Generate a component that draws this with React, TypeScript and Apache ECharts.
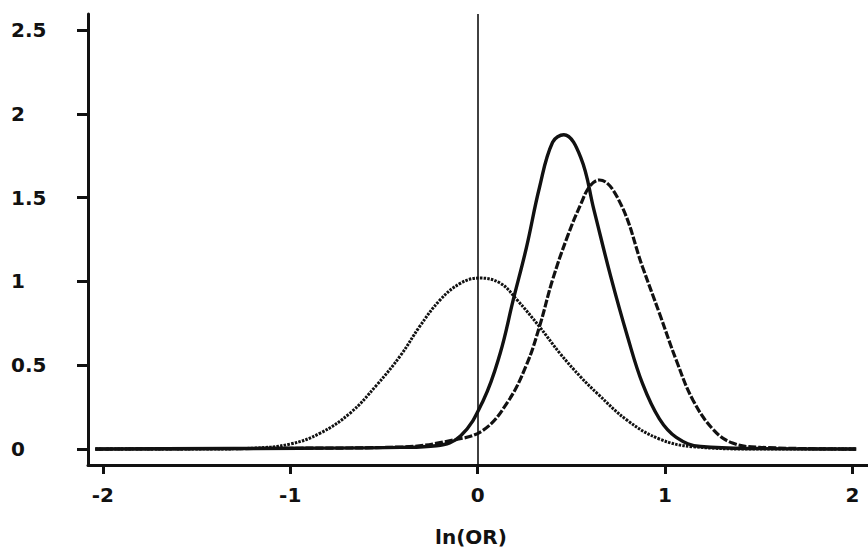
import React, { useEffect, useRef } from "react";
import * as echarts from "echarts";

// Dotted curve (peaked at 0)
const dottedX = [-2.04, -1.48, -1.21, -1.0, -0.84, -0.68, -0.54, -0.41, -0.31, -0.2, -0.09, 0.01, 0.12, 0.21, 0.33, 0.44, 0.55, 0.64, 0.8, 0.97, 1.15, 1.51, 2.02];
const dottedY = [0, 0, 0.005, 0.03, 0.095, 0.215, 0.38, 0.56, 0.73, 0.89, 0.99, 1.02, 0.99, 0.89, 0.73, 0.57, 0.43, 0.33, 0.17, 0.06, 0.014, 0, 0];

// Solid curve (tall, narrow)
const solidX = [-2.04, -0.95, -0.41, -0.22, -0.09, 0.03, 0.12, 0.19, 0.26, 0.33, 0.4, 0.46, 0.55, 0.62, 0.71, 0.8, 0.88, 0.97, 1.06, 1.19, 1.51, 2.02];
const solidY = [0, 0.005, 0.01, 0.02, 0.08, 0.29, 0.57, 0.89, 1.2, 1.56, 1.83, 1.875, 1.74, 1.43, 1.03, 0.67, 0.39, 0.18, 0.07, 0.015, 0.003, 0];

// Dashed curve (shifted right)
const dashedX = [-2.04, -0.95, -0.41, -0.13, 0.03, 0.16, 0.26, 0.33, 0.4, 0.48, 0.55, 0.6, 0.65, 0.76, 0.88, 0.97, 1.06, 1.15, 1.26, 1.36, 1.51, 2.02];
const dashedY = [0, 0.005, 0.012, 0.054, 0.113, 0.28, 0.5, 0.73, 1.01, 1.27, 1.46, 1.57, 1.605, 1.47, 1.086, 0.81, 0.53, 0.29, 0.113, 0.036, 0.01, 0];

const xTicks = [-2, -1, 0, 1, 2];
const yTicks = [0, 0.5, 1, 1.5, 2, 2.5];
const xName = "ln(OR)";

const pairs = (xs: number[], ys: number[]) => xs.map((x, i) => [x, ys[i]]);

const FONT = "DejaVu Sans";
const SMOOTH = 0.4;

export default function App() {
  const ref = useRef<HTMLDivElement>(null);
  useEffect(() => {
    if (!ref.current) return;
    const chart = echarts.init(ref.current, undefined, { renderer: "svg" });
    chart.setOption({
      animation: false,
      backgroundColor: "#ffffff",
      grid: { left: 88, right: 0, top: 14, bottom: 87, containLabel: false },
      xAxis: {
        type: "value",
        min: -2.079,
        max: 2.083,
        name: xName,
        nameLocation: "middle",
        nameGap: 62,
        nameTextStyle: { fontFamily: FONT, fontWeight: "bold", fontSize: 20, color: "#111", padding: [0, 14, 0, 0] },
        axisLine: { show: true, onZero: false, lineStyle: { color: "#111", width: 3 } },
        axisTick: { show: true, length: 9, customValues: xTicks, lineStyle: { color: "#111", width: 3 } },
        axisLabel: { customValues: xTicks, margin: 20, fontFamily: FONT, fontWeight: "bold", fontSize: 20, color: "#111" },
        splitLine: { show: false },
      },
      yAxis: {
        type: "value",
        min: -0.095,
        max: 2.595,
        axisLine: { show: true, onZero: false, lineStyle: { color: "#111", width: 3 } },
        axisTick: { show: true, length: 11, customValues: yTicks, lineStyle: { color: "#111", width: 3 } },
        axisLabel: { customValues: yTicks, align: "left", margin: 77, fontFamily: FONT, fontWeight: "bold", fontSize: 20, color: "#111" },
        splitLine: { show: false },
      },
      series: [
        {
          type: "line",
          data: pairs(dottedX, dottedY),
          smooth: SMOOTH,
          showSymbol: false,
          lineStyle: { color: "#111", width: 3, type: [2.5, 1.2] },
          markLine: {
            silent: true,
            symbol: ["none", "none"],
            label: { show: false },
            lineStyle: { color: "#111", width: 1.6, type: "solid" },
            data: [{ xAxis: 0 }],
          },
        },
        {
          type: "line",
          data: pairs(solidX, solidY),
          smooth: SMOOTH,
          showSymbol: false,
          lineStyle: { color: "#111", width: 3.4, type: "solid" },
        },
        {
          type: "line",
          data: pairs(dashedX, dashedY),
          smooth: SMOOTH,
          showSymbol: false,
          lineStyle: { color: "#111", width: 3.2, type: [8, 2] },
        },
      ],
    });
    return () => chart.dispose();
  }, []);
  return <div ref={ref} style={{ position: "absolute", left: 0, top: 0, width: 868, height: 552 }} />;
}
